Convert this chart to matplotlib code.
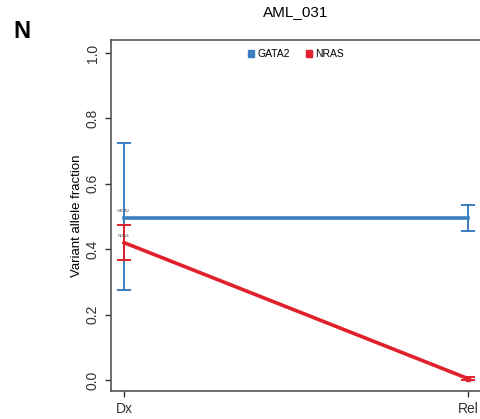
import matplotlib
matplotlib.use("Agg")
import matplotlib.pyplot as plt
from matplotlib.patches import Patch

timepoints = ["Dx", "Rel"]
genes = ["GATA2", "NRAS"]
colors = ["#3b7dbf", "#e0202a"]
vaf = {"GATA2": [0.495, 0.495], "NRAS": [0.42, 0.004]}
err_low = {"GATA2": [0.275, 0.457], "NRAS": [0.368, 0.0]}
err_high = {"GATA2": [0.725, 0.535], "NRAS": [0.475, 0.008]}
yticks = [0.0, 0.2, 0.4, 0.6, 0.8, 1.0]

plt.rcParams['font.family'] = ['Liberation Sans', 'DejaVu Sans']
fig = plt.figure(figsize=(4.81, 4.19), dpi=100)
ax = fig.add_axes([0.2308, 0.0668, 0.7692, 0.8377])
x = list(range(len(timepoints)))
for g, c in zip(genes, colors):
    v = vaf[g]
    lo = [a - b for a, b in zip(v, err_low[g])]
    hi = [b - a for a, b in zip(v, err_high[g])]
    ax.errorbar(x, v, yerr=[lo, hi], color=c, lw=2.6, elinewidth=1.4,
                capsize=5, capthick=1.4, zorder=3)
    ax.text(x[0] - 0.02, v[0] + 0.015, g, fontsize=3, color="#555555",
            ha='left', va='bottom')
ax.plot([x[1]], [vaf["NRAS"][1]], marker='s', ms=3.5, color=colors[1], zorder=4)

ax.set_xlim(-0.038, 1.038)
ax.set_ylim(-0.034, 1.04)
ax.set_xticks(x)
ax.set_xticklabels(timepoints, fontsize=10)
ax.set_yticks(yticks)
ax.set_yticklabels([f"{t:.1f}" for t in yticks], rotation=90, va='center', fontsize=10)
ax.set_ylabel("Variant allele fraction", fontsize=9.5, labelpad=2)
ax.spines['right'].set_visible(False)
for s in ax.spines.values():
    s.set_color("#555555")
    s.set_linewidth(1.2)
ax.tick_params(colors="#333333", length=4, width=1, pad=4)
ax.set_title("AML_031", fontsize=11, pad=17)
fig.text(0.027, 0.91, "N", fontsize=17, fontweight='bold')
handles = [Patch(facecolor=c, edgecolor=c, label=g) for g, c in zip(genes, colors)]
ax.legend(handles=handles, loc='upper center', bbox_to_anchor=(0.5, 1.0), ncol=2,
          frameon=False, fontsize=7.5, handlelength=0.6, handleheight=0.6,
          handletextpad=0.3, columnspacing=1.5)
fig.savefig("out.png", dpi=100)
